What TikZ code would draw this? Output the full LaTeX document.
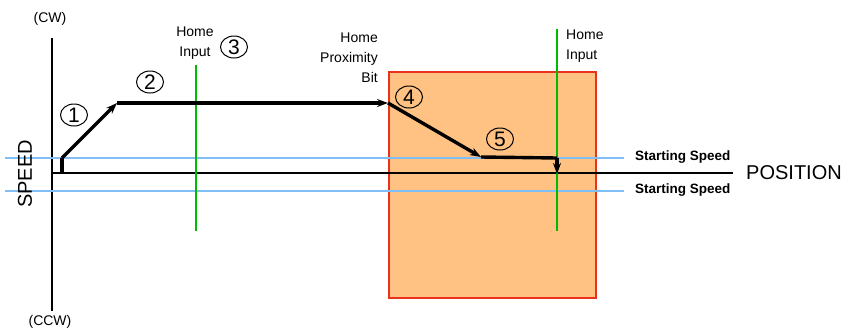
\documentclass[tikz,border=0pt]{standalone}
\usepackage{fontspec}
\setmainfont{Liberation Sans}
\usetikzlibrary{arrows.meta,shapes.geometric}
\definecolor{speedblue}{HTML}{80BFF5}
\definecolor{homegreen}{HTML}{00BB00}
\definecolor{zonefill}{HTML}{FFC283}
\definecolor{zoneline}{HTML}{E8321E}
\tikzset{
  axis/.style={line width=2.3bp,black},
  prof/.style={line width=3.4bp,black},
  tip/.style={-{Stealth[length=11bp,width=8bp]}},
  bluel/.style={line width=2bp,speedblue},
  greenl/.style={line width=2.8bp,homegreen},
  lbl/.style={font=\fontsize{14bp}{20bp}\selectfont,inner sep=0pt},
  big/.style={font=\fontsize{20bp}{22bp}\selectfont,inner sep=0pt},
  ss/.style={font=\bfseries\fontsize{13.5bp}{16bp}\selectfont,inner sep=0pt,anchor=west},
  num/.style={ellipse,draw,line width=1bp,minimum width=27bp,minimum height=22bp,inner sep=0pt,font=\fontsize{21bp}{22bp}\selectfont}
}
\begin{document}
\begin{tikzpicture}[x=1bp,y=-1bp]
\useasboundingbox (0,0) rectangle (844,330);
% home proximity zone
\node[draw=zoneline,fill=zonefill,line width=1.6bp,minimum width=207bp,minimum height=226bp,inner sep=0pt,anchor=north west] (zone) at (388,71) {};
% axes
\coordinate (vtop) at (52,38);
\coordinate (vbot) at (52,311);
\coordinate (hl) at (52,173);
\coordinate (hr) at (733,173);
\draw[axis] (vtop) -- (vbot);
\draw[axis] (hl) -- (hr);
% starting speed lines
\coordinate (b1l) at (5,158); \coordinate (b1r) at (624,158);
\coordinate (b2l) at (5,191); \coordinate (b2r) at (624,191);
\draw[bluel] (b1l) -- (b1r);
\draw[bluel] (b2l) -- (b2r);
\node[ss] (ss1) at (635,157) {Starting Speed};
\node[ss] (ss2) at (635,190) {Starting Speed};
% green home input lines
\coordinate (g1t) at (196,65); \coordinate (g1b) at (196,231);
\coordinate (g2t) at (557,29); \coordinate (g2b) at (557,231);
\draw[greenl] (g1t) -- (g1b);
\draw[greenl] (g2t) -- (g2b);
% profile
\coordinate (p0) at (62,173);
\coordinate (p1) at (62,158);
\coordinate (p2) at (117,103);
\coordinate (p3) at (388,103);
\coordinate (p4) at (481,157);
\coordinate (p5) at (557,158);
\coordinate (p6) at (557,174);
\draw[prof] (p0) -- (p1);
\draw[prof,tip] (p1) -- (p2);
\draw[prof,tip] (p2) -- (p3);
\draw[prof,tip] (p3) -- (p4);
\draw[prof] (p4) -- (p5);
\draw[prof,tip] (p5) -- (p6);
% labels
\node[big] (pos) at (746,173) [anchor=west] {POSITION};
\node[big,rotate=90] (speed) at (25,174) {SPEED};
\node[lbl] (cw) at (50,19) {(CW)};
\node[lbl] (ccw) at (50,322) {(CCW)};
\node[lbl,align=center] (hi1) at (195,43) {Home\\Input};
\node[lbl,align=left,anchor=west] (hi2) at (566,46) {Home\\Input};
\node[lbl,align=right,anchor=east] (hpb) at (378,58) {Home\\Proximity\\Bit};
\node[num] (n1) at (74,115) {1};
\node[num] (n2) at (150,82) {2};
\node[num] (n3) at (234,47) {3};
\node[num] (n4) at (409,97) {4};
\node[num] (n5) at (500,139) {5};
\end{tikzpicture}
\end{document}
